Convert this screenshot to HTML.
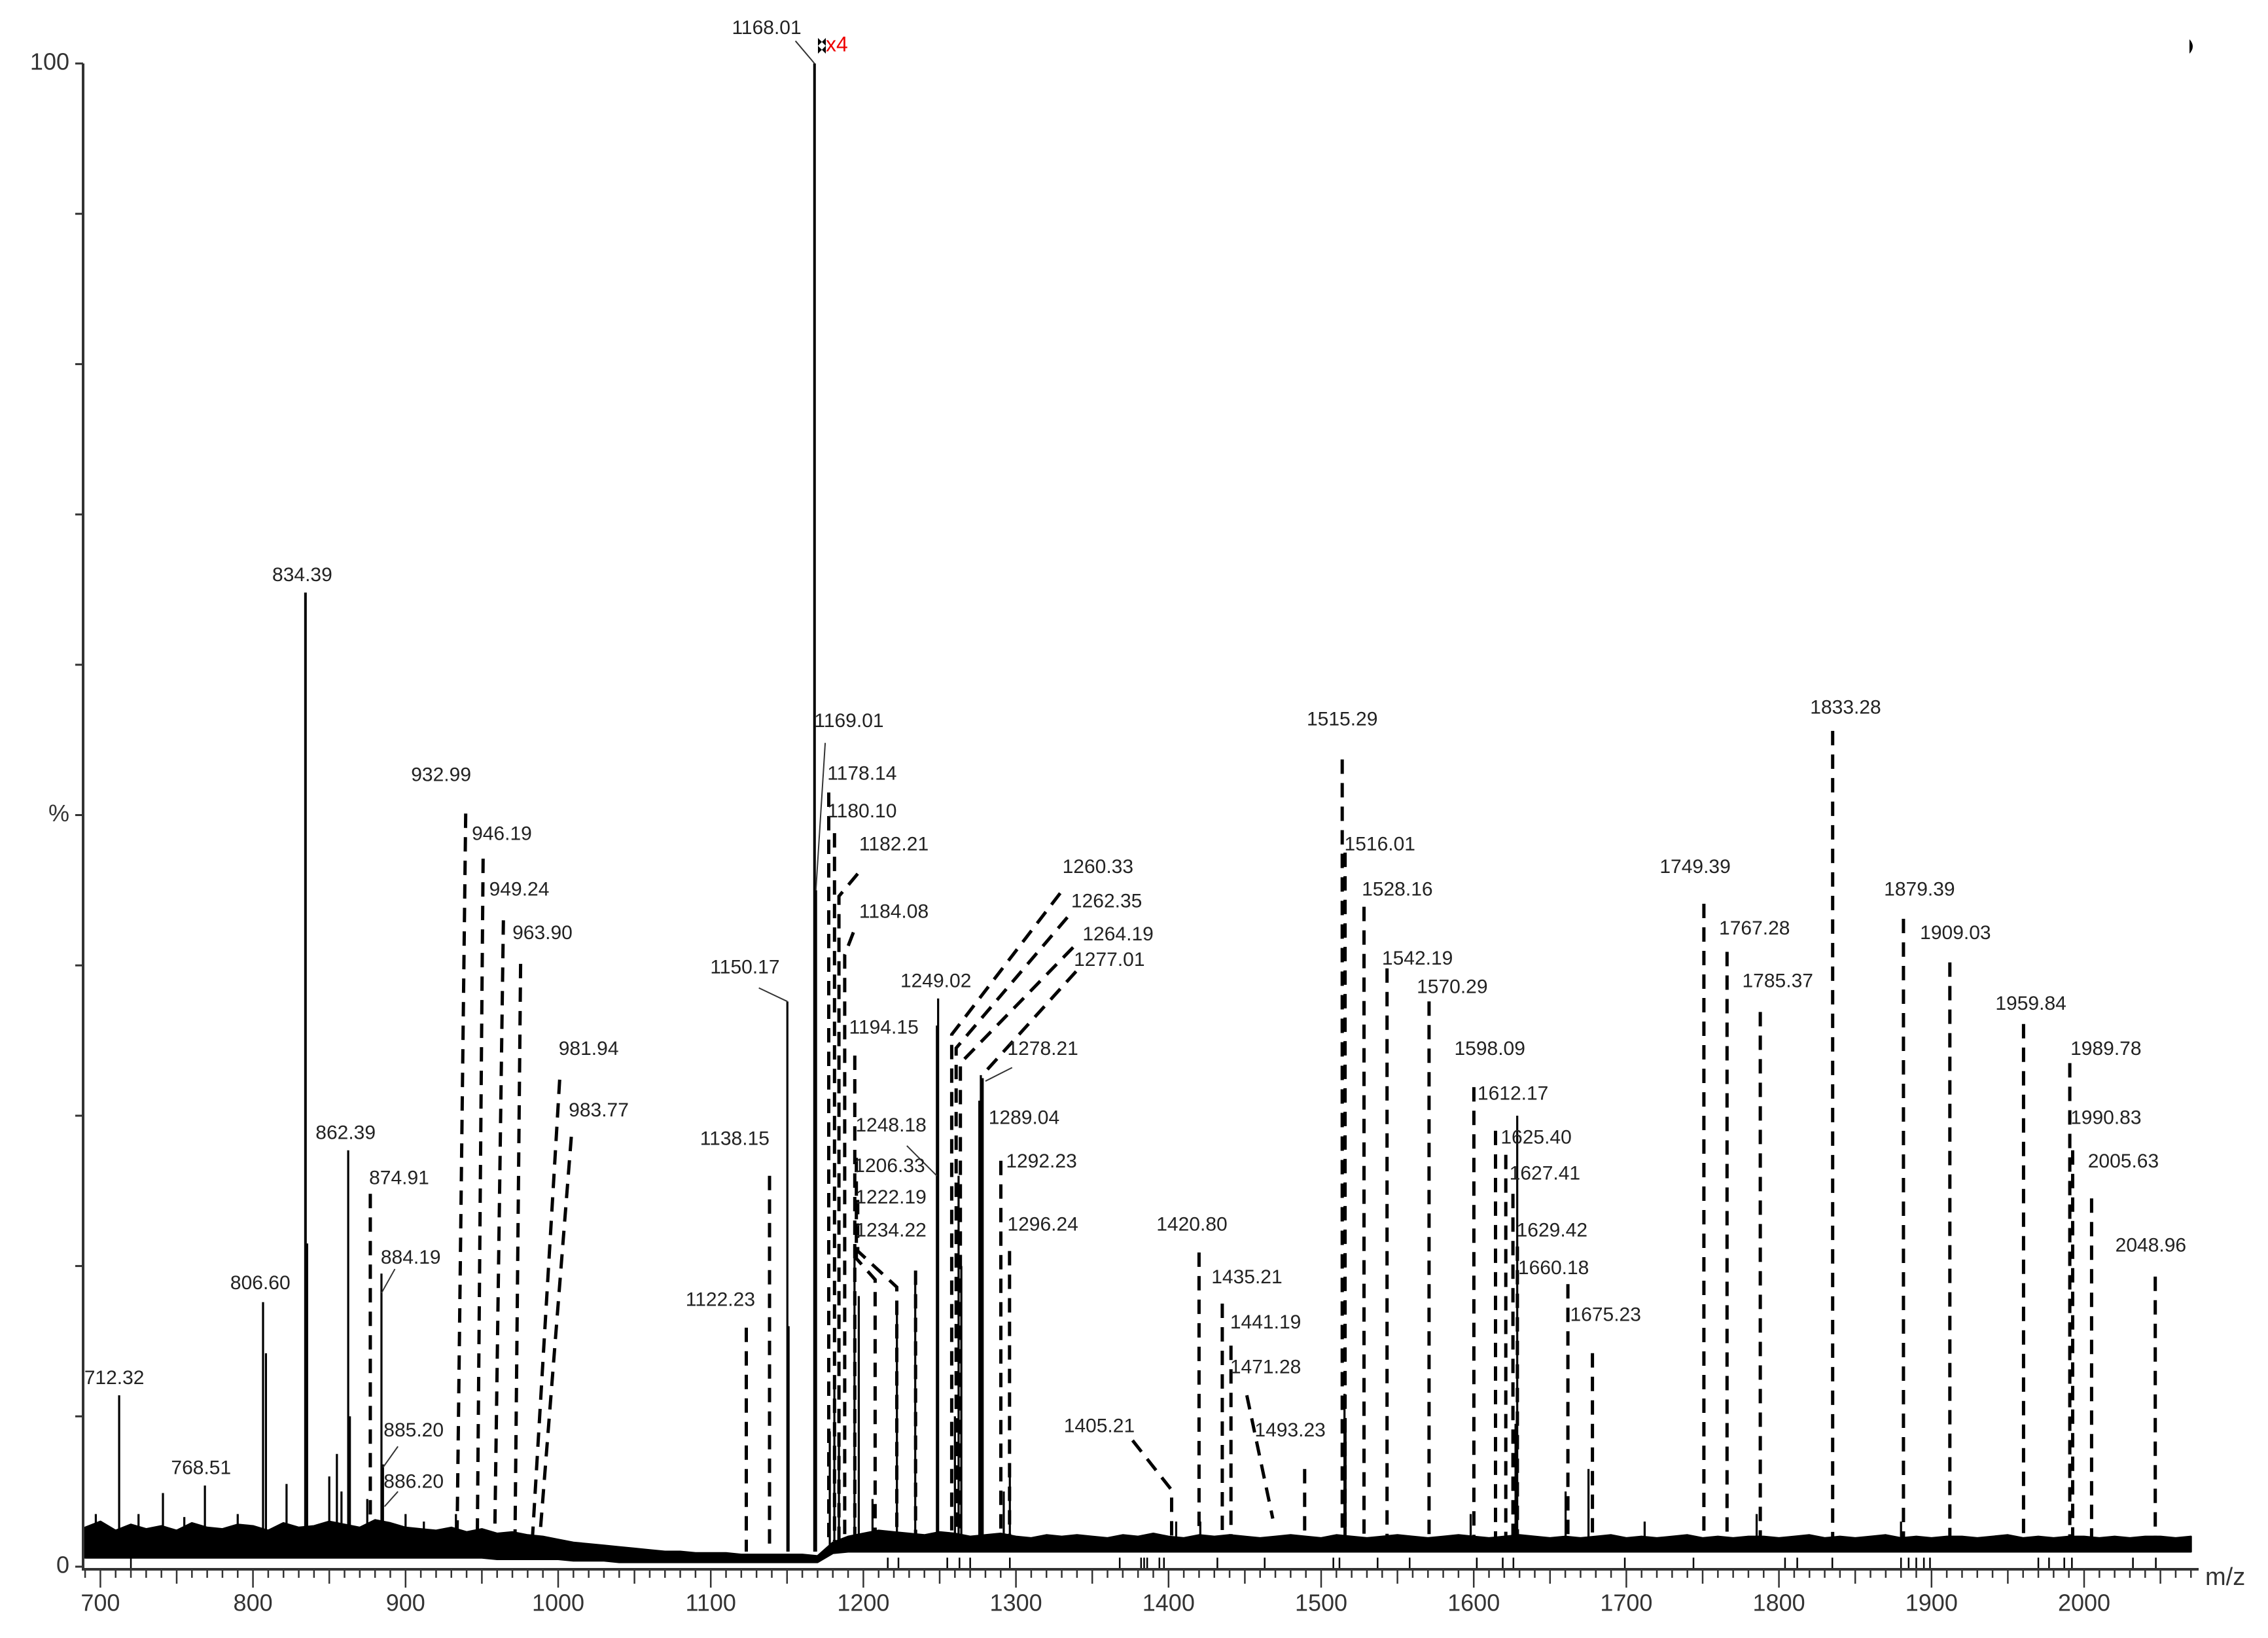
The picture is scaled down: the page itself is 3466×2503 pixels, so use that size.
<!DOCTYPE html>
<html><head><meta charset="utf-8">
<style>
html,body{margin:0;padding:0;background:#fff;}
svg{display:block;font-family:"Liberation Sans",sans-serif;}
</style></head>
<body>
<svg id="chart" width="3466" height="2503" viewBox="0 0 3466 2503" xmlns="http://www.w3.org/2000/svg">
<g id="noise"></g>
<g id="below"></g>
<g id="peaks"></g>
<g id="dashes"></g>
<g id="leaders"></g>
<g id="labels"></g>
<g id="axes"></g>
</svg>
<script>
// ---- data ----
const xTickValues = [700,800,900,1000,1100,1200,1300,1400,1500,1600,1700,1800,1900,2000];
const yTickLabels = ["0","%","100"];
const peakMz  = [697,712.3,725,741,755,768.5,790,806.6,808.5,822,834.4,835.5,850,855,858,862.4,863.5,874.9,884.2,885.2,900,912,933,1150.2,1151,1168,1169,1178,1181,1184,1194.2,1197,1206,1222,1234,1248.2,1249,1260,1262.4,1264.2,1276,1277,1278.2,1292,1296,1405,1420.8,1515.3,1516,1598,1627.4,1628.5,1660.2,1675.2,1712,1785.4,1880];
const peakPct = [3.5,11.4,3.5,4.9,3.3,5.4,3.5,17.6,14.2,5.5,64.8,21.5,6,7.5,5,27.7,10,4.5,19.5,6.8,3.5,3,3.5,37.6,16,100,45,9,12,8,20.5,18,4.5,17,19.7,36,37.8,10,26,20,31,32.7,32.5,5,6,3,3,11.5,9,3.5,9.5,30,5,6.5,3,3.5,3];
const noiseStart = 690;
const noiseStep = 10;
const noiseTop = [2.6,3.0,2.4,2.8,2.5,2.7,2.4,2.9,2.6,2.5,2.8,2.7,2.4,2.9,2.6,2.7,3.0,2.8,2.6,3.1,2.9,2.6,2.5,2.4,2.6,2.3,2.5,2.2,2.3,2.1,2.0,1.8,1.6,1.5,1.4,1.3,1.2,1.1,1.0,1.0,0.9,0.9,0.9,0.8,0.8,0.8,0.8,0.8,0.7,1.6,2.0,2.2,2.4,2.3,2.2,2.1,2.3,2.2,2.0,2.1,2.2,2.0,1.9,2.1,2.0,2.1,2.0,1.9,2.1,2.0,2.2,2.0,1.9,2.1,2.0,2.1,2.0,1.9,2.0,2.1,2.0,1.9,2.1,2.0,1.9,2.0,2.1,2.0,1.9,2.0,2.1,2.0,1.9,2.0,2.1,2.0,1.9,2.0,1.9,2.0,2.1,1.9,2.0,1.9,2.0,2.1,1.9,2.0,1.9,2.0,2.0,1.9,2.0,2.1,1.9,2.0,1.9,2.0,2.1,1.9,2.0,1.9,2.0,2.0,1.9,2.0,2.1,1.9,2.0,1.9,2.0,2.0,1.9,2.0,1.9,2.0,2.0,1.9,2.0];
const noiseBottom = [0.6,0.6,0.6,0.6,0.6,0.6,0.6,0.6,0.6,0.6,0.6,0.6,0.6,0.6,0.6,0.6,0.6,0.6,0.6,0.6,0.6,0.6,0.6,0.6,0.6,0.6,0.6,0.5,0.5,0.5,0.5,0.5,0.4,0.4,0.4,0.3,0.3,0.3,0.3,0.3,0.3,0.3,0.3,0.3,0.3,0.3,0.3,0.3,0.3,0.9,1.0,1.0,1.0,1.0,1.0,1.0,1.0,1.0,1.0,1.0,1.0,1.0,1.0,1.0,1.0,1.0,1.0,1.0,1.0,1.0,1.0,1.0,1.0,1.0,1.0,1.0,1.0,1.0,1.0,1.0,1.0,1.0,1.0,1.0,1.0,1.0,1.0,1.0,1.0,1.0,1.0,1.0,1.0,1.0,1.0,1.0,1.0,1.0,1.0,1.0,1.0,1.0,1.0,1.0,1.0,1.0,1.0,1.0,1.0,1.0,1.0,1.0,1.0,1.0,1.0,1.0,1.0,1.0,1.0,1.0,1.0,1.0,1.0,1.0,1.0,1.0,1.0,1.0,1.0,1.0,1.0,1.0,1.0,1.0,1.0,1.0,1.0,1.0,1.0];
const belowMz = [720,1216,1223,1255,1263,1270,1296,1368,1382,1384,1386,1394,1397,1432,1463,1508,1512,1537,1558,1602,1619,1626,1699,1744,1804,1812,1835,1880,1885,1890,1895,1899,1970,1977,1987,1992,2032,2047];
const labelText = ["712.32","768.51","806.60","834.39","862.39","874.91","884.19","885.20","886.20","932.99","946.19","949.24","963.90","981.94","983.77","1122.23","1138.15","1150.17","1168.01","1169.01","1178.14","1180.10","1182.21","1184.08","1194.15","1248.18","1206.33","1222.19","1234.22","1249.02","1260.33","1262.35","1264.19","1277.01","1278.21","1289.04","1292.23","1296.24","1405.21","1420.80","1435.21","1441.19","1471.28","1493.23","1515.29","1516.01","1528.16","1542.19","1570.29","1598.09","1612.17","1625.40","1627.41","1629.42","1660.18","1675.23","1749.39","1767.28","1785.37","1833.28","1879.39","1909.03","1959.84","1989.78","1990.83","2005.63","2048.96"];
const labelMz  = [709.1,766.0,804.8,832.3,860.7,895.8,903.4,905.3,905.3,923.3,963.1,974.5,989.7,1020.0,1026.6,1106.3,1115.7,1122.4,1136.6,1190.6,1199.1,1199.1,1220.0,1220.0,1213.4,1218.1,1217.2,1218.1,1218.1,1247.5,1353.7,1359.4,1366.9,1361.2,1317.6,1305.3,1316.7,1317.6,1354.6,1415.3,1451.3,1463.6,1463.6,1479.7,1513.8,1538.5,1549.9,1563.1,1585.9,1610.5,1625.7,1640.9,1646.6,1651.3,1652.3,1686.4,1745.1,1784.0,1799.2,1843.7,1892.1,1915.7,1965.1,2014.3,2014.3,2025.7,2043.7];
const labelPct = [12.5,6.5,18.8,65.9,28.8,25.8,20.5,9.0,5.6,52.6,48.7,45.0,42.1,34.4,30.3,17.7,28.4,39.8,102.3,56.2,52.7,50.2,48.0,43.5,35.8,29.3,26.6,24.5,22.3,38.9,46.5,44.2,42.0,40.3,34.4,29.8,26.9,22.7,9.3,22.7,19.2,16.2,13.2,9.0,56.3,48.0,45.0,40.4,38.5,34.4,31.4,28.5,26.1,22.3,19.8,16.7,46.5,42.4,38.9,57.1,45.0,42.1,37.4,34.4,29.8,26.9,21.3];
// dashed lines: path points as alternating mz, pct
const dashPaths = [
 [876.9,24.8,876.9,1.7],[939.4,50.1,933.7,1.7],[950.8,47.1,947.0,1.7],[964.1,43.0,958.4,1.7],[975.4,40.1,971.7,1.7],
 [1001.0,32.4,983.0,1.7],[1008.6,28.6,987.8,1.7],[1123.3,15.9,1123.3,1.0],[1138.5,26.0,1138.5,1.0],
 [1177.3,51.5,1177.3,1.7],[1181.1,48.8,1181.1,1.7],[1196.3,46.1,1184.0,44.6,1184.0,1.7],[1193.5,42.2,1187.8,40.7,1187.8,1.7],
 [1194.4,34.0,1194.4,1.7],[1195.4,27.2,1195.4,20.5,1207.7,19.1,1207.7,1.7],[1196.3,24.4,1196.3,21.0,1221.9,18.6,1221.9,1.7],
 [1234.2,19.7,1234.2,1.7],[1329.0,44.8,1257.9,35.4,1257.9,1.7],[1333.7,43.2,1260.8,34.5,1260.8,1.7],[1337.5,41.2,1263.6,33.5,1263.6,1.7],
 [1339.4,39.6,1278.8,32.8],[1290.1,27.0,1290.1,1.7],[1295.8,21.0,1295.8,1.7],[1376.4,8.4,1402.0,5.1,1402.0,1.7],
 [1420.0,20.9,1420.0,1.7],[1435.2,17.5,1435.2,1.7],[1440.9,14.7,1440.9,1.7],[1451.3,11.4,1468.3,3.2],[1489.2,6.5,1489.2,1.7],
 [1513.8,53.7,1513.8,1.7],[1515.7,47.5,1515.7,1.7],[1528.1,43.9,1528.1,1.7],[1543.2,39.8,1543.2,1.7],[1570.7,37.6,1570.7,1.7],
 [1600.1,31.9,1600.1,1.7],[1614.3,29.0,1614.3,1.7],[1621.0,27.4,1621.0,1.7],[1625.7,24.8,1625.7,1.7],[1628.6,21.3,1628.6,1.7],
 [1661.7,18.8,1661.7,1.7],[1677.8,14.2,1677.8,1.7],[1750.8,44.1,1750.8,1.7],[1766.0,40.9,1766.0,1.7],[1787.8,36.9,1787.8,1.7],
 [1835.2,55.6,1835.2,1.7],[1881.6,43.1,1881.6,1.7],[1912.0,40.2,1912.0,1.7],[1960.3,36.1,1960.3,1.7],[1990.6,33.5,1990.6,1.7],
 [1992.5,27.7,1992.5,1.7],[2004.9,24.5,2004.9,1.7],[2046.6,19.3,2046.6,1.7]
];
// solid leader lines (mz,pct,mz,pct)
const leaderPaths = [
 [1131.5,38.5,1150.2,37.6],[1155.5,101.5,1168,100],[1175.0,54.8,1168.9,45.0],[1228.5,28.0,1248.2,26.0],
 [893.0,19.8,884.2,18.2],[895.0,8.0,885.2,6.6],[895.0,5.0,886.2,4.0],[1297.5,33.2,1280.0,32.3]
];

// ---- scales ----
const X0 = 853, XPX = 2.332, Y0 = 2394, YPX = 22.97;
function xs(mz){ return X0 + (mz-1000)*XPX; }
function ys(p){ return Y0 - p*YPX; }
const NS = "http://www.w3.org/2000/svg";
function mk(tag, attrs, parent){ const e=document.createElementNS(NS,tag); for(const k in attrs) e.setAttribute(k,attrs[k]); parent.appendChild(e); return e; }

// noise band
const gN = document.getElementById('noise');
const nLen = Math.min(noiseTop.length, noiseBottom.length);
let pts = [];
for(let i=0;i<nLen;i++){ pts.push(xs(noiseStart+i*noiseStep).toFixed(1)+','+ys(noiseTop[i]).toFixed(1)); }
for(let i=nLen-1;i>=0;i--){ pts.push(xs(noiseStart+i*noiseStep).toFixed(1)+','+ys(noiseBottom[i]).toFixed(1)); }
const nb = mk('polygon',{points:pts.join(' '),fill:'#000',stroke:'#000','stroke-width':3,'stroke-linejoin':'round'},gN);



// below-baseline ticks
const gB = document.getElementById('below');
belowMz.forEach(m=>{
  const l = mk('line',{x1:xs(m),x2:xs(m),y1:ys(0.6),y2:2396,stroke:'#000','stroke-width':2.5},gB);
  
  
});

// peaks
const gP = document.getElementById('peaks');
peakMz.forEach((m,i)=>{
  const l = mk('line',{x1:xs(m),x2:xs(m),y1:ys(1),y2:ys(peakPct[i]),stroke:'#000','stroke-width':peakPct[i]>50?4:3.2},gP);
  
  
});

// dashed lines
const gD = document.getElementById('dashes');
dashPaths.forEach(a=>{
  let d='';
  for(let k=0;k<a.length;k+=2){ d += (k?' L':'M')+xs(a[k]).toFixed(1)+' '+ys(a[k+1]).toFixed(1); }
  const p = mk('path',{d:d,fill:'none',stroke:'#000','stroke-width':5,'stroke-dasharray':'22 14'},gD);
  
  
});

// leaders
const gL = document.getElementById('leaders');
leaderPaths.forEach(a=>{
  const l = mk('line',{x1:xs(a[0]),y1:ys(a[1]),x2:xs(a[2]),y2:ys(a[3]),stroke:'#333','stroke-width':2},gL);
  
  
});

// labels
const gT = document.getElementById('labels');
labelText.forEach((t,i)=>{
  const e = mk('text',{x:xs(labelMz[i]),y:ys(labelPct[i]),'font-size':30,'text-anchor':'middle','dominant-baseline':'middle',fill:'#222'},gT);
  e.textContent = t;
  
  
});

// axes
const gA = document.getElementById('axes');
const yax = mk('line',{x1:127,x2:127,y1:97,y2:2399,stroke:'#333','stroke-width':4},gA);


const xax = mk('line',{x1:125,x2:3360,y1:2398,y2:2398,stroke:'#333','stroke-width':4},gA);


for(let p=0;p<=100;p+=10){
  const t = mk('line',{x1:115,x2:127,y1:ys(p),y2:ys(p),stroke:'#333','stroke-width':3},gA);
  
  
}
[[0,yTickLabels[0]],[50,yTickLabels[1]],[100,yTickLabels[2]]].forEach(a=>{
  const e = mk('text',{x:106,y:ys(a[0]),'font-size':36,'text-anchor':'end','dominant-baseline':'middle',fill:'#333'},gA);
  e.textContent = a[1];
  
  
});
for(let m=690;m<=2070;m+=10){
  const len = (m%100===0)?28:(m%50===0?22:13);
  const t = mk('line',{x1:xs(m),x2:xs(m),y1:2398,y2:2398+len,stroke:'#333','stroke-width':2.5},gA);
  
  
}
xTickValues.forEach(v=>{
  const e = mk('text',{x:xs(v),y:2452,'font-size':36,'text-anchor':'middle','dominant-baseline':'middle',fill:'#333'},gA);
  e.textContent = v;
  
  
});
const mzt = mk('text',{x:3370,y:2412,'font-size':38,fill:'#333','dominant-baseline':'middle'},gA);
mzt.textContent = 'm/z';


const x4 = mk('text',{x:1262,y:70,'font-size':32,fill:'#e00','dominant-baseline':'middle'},gA);
x4.textContent = 'x4';


const m1 = mk('path',{d:'M1250 58 L1262 70 L1250 82 Z M1262 58 L1250 70 L1262 82 Z',fill:'#000'},gA);


const m2 = mk('path',{d:'M3346 60 Q3356 71 3346 82 Z',fill:'#000'},gA);


</script>
</body></html>
